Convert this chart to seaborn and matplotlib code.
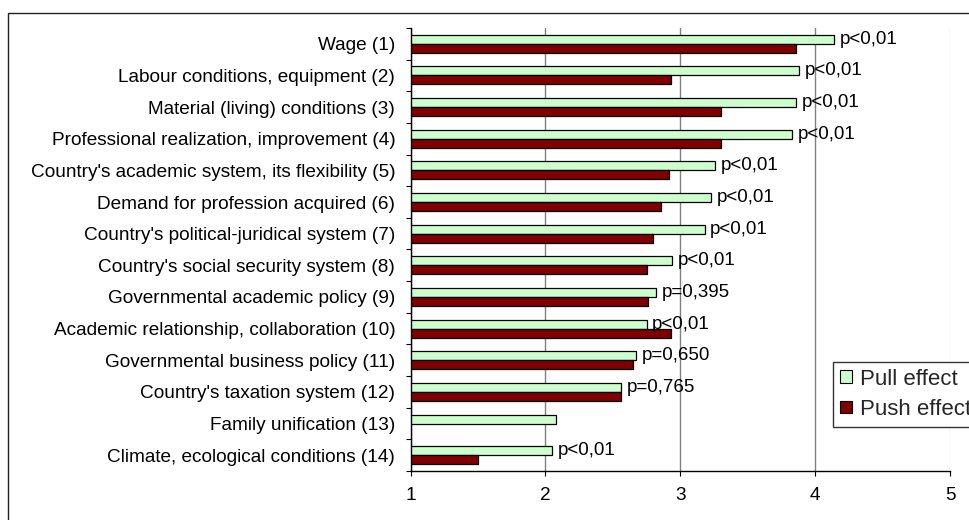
import numpy as np
import pandas as pd
import matplotlib
matplotlib.use("Agg")
import matplotlib.pyplot as plt
from matplotlib.patches import Patch, Rectangle
import seaborn as sns

factors = [
    "Wage (1)",
    "Labour conditions, equipment (2)",
    "Material (living) conditions (3)",
    "Professional realization, improvement (4)",
    "Country's academic system, its flexibility (5)",
    "Demand for profession acquired (6)",
    "Country's political-juridical system (7)",
    "Country's social security system (8)",
    "Governmental academic policy (9)",
    "Academic relationship, collaboration (10)",
    "Governmental business policy (11)",
    "Country's taxation system (12)",
    "Family unification (13)",
    "Climate, ecological conditions (14)",
]
pull = [4.14, 3.88, 3.86, 3.83, 3.26, 3.23, 3.18, 2.94, 2.82, 2.75, 2.67, 2.56, 2.08, 2.05]
push = [3.86, 2.93, 3.30, 3.30, 2.92, 2.86, 2.80, 2.75, 2.76, 2.93, 2.65, 2.56, np.nan, 1.50]
p_labels = ["p<0,01", "p<0,01", "p<0,01", "p<0,01", "p<0,01", "p<0,01", "p<0,01",
            "p<0,01", "p=0,395", "p<0,01", "p=0,650", "p=0,765", "", "p<0,01"]
effects = ["Pull effect", "Push effect"]
colors = {"Pull effect": "#ccffcc", "Push effect": "#800000"}

# long table for seaborn
df = pd.DataFrame({
    "factor": factors * 2,
    "value": pull + push,
    "effect": [effects[0]] * len(factors) + [effects[1]] * len(factors),
}).dropna()

sns.set_theme(style="white")
plt.rcParams["font.family"] = ["Liberation Sans", "DejaVu Sans"]

fig = plt.figure(figsize=(9.7, 5.2), dpi=100)
ax = fig.add_axes([0.4232, 0.0942, 0.5562, 0.852])

sns.barplot(data=df, x="value", y="factor", hue="effect", order=factors,
            hue_order=effects, palette=colors, width=0.57, orient="h",
            edgecolor="black", linewidth=0.9, ax=ax, legend=False, saturation=1)

ax.set_xlim(1, 5)
ax.set_ylim(len(factors) - 0.5, -0.5)
ax.set_xticks([1, 2, 3, 4, 5])
ax.set_xlabel("")
ax.set_ylabel("")

# vertical gridlines
ax.set_axisbelow(True)
ax.grid(axis="x", color="#808080", linewidth=1)
ax.xaxis.get_gridlines()[-1].set_color("#d9d9d9")

for s in ["top", "right"]:
    ax.spines[s].set_visible(False)
for s in ["left", "bottom"]:
    ax.spines[s].set_color("black")
    ax.spines[s].set_linewidth(1)

ax.set_yticks(np.arange(-0.5, len(factors), 1), minor=True)
ax.tick_params(axis="y", which="major", length=0, pad=11, labelsize=13.7, colors="black")
ax.tick_params(axis="y", which="minor", left=True, length=3.6, width=0.8, color="black")
ax.tick_params(axis="x", bottom=True, length=3.6, width=0.8, pad=8, labelsize=13.7,
               color="black", labelcolor="black")

# p-value annotations next to pull bars
for i, (v, lab) in enumerate(zip(pull, p_labels)):
    if lab:
        ax.annotate(lab, xy=(v, i - 0.57 / 4), xytext=(4, 0), textcoords="offset points",
                    va="center", ha="left", fontsize=13.5, color="black")

handles = [Patch(facecolor=colors[e], edgecolor="black", linewidth=0.8, label=e) for e in effects]
leg = fig.legend(handles=handles, loc="upper left", bbox_to_anchor=(0.8588, 0.3038),
                 bbox_transform=fig.transFigure, borderaxespad=0, fontsize=16,
                 frameon=True, fancybox=False, edgecolor="black", handlelength=0.55,
                 handleheight=0.5, handletextpad=0.35, labelspacing=0.42, borderpad=0.3)
leg.get_frame().set_linewidth(1)

# outer chart frame
fig.add_artist(Rectangle((8 / 970, -0.5), 2, 0.5 + 1 - 13 / 520, transform=fig.transFigure,
                         fill=False, edgecolor="#222222", linewidth=1))

fig.savefig("out.png", dpi=100)
